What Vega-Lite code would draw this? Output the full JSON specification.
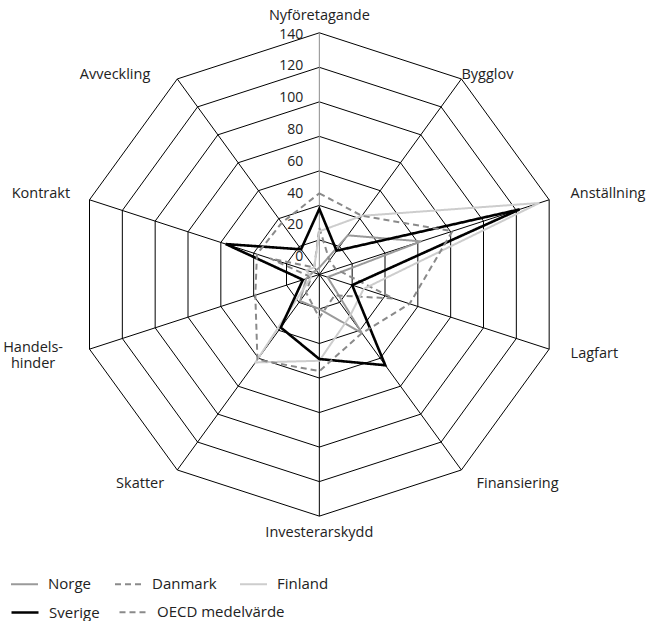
{
  "$schema": "https://vega.github.io/schema/vega-lite/v6.json",
  "width": 653,
  "height": 621,
  "padding": 0,
  "autosize": {"type": "none"},
  "config": {
    "view": {"stroke": null},
    "font": "Open Sans",
    "text": {"font": "Open Sans", "fontSize": 14.5, "color": "#222"},
    "legend": {"title": null, "orient": "none", "direction": "horizontal", "symbolType": "stroke", "symbolSize": 729, "labelFont": "Open Sans", "labelFontSize": 15, "labelColor": "#222", "labelOffset": 9, "gridAlign": "each"}
  },
  "datasets": {
    "axes": [
      {"k": 0, "kategori": "Nyföretagande", "levels": [20, 40, 60, 80, 100, 120, 140]},
      {"k": 1, "kategori": "Bygglov", "levels": [20, 40, 60, 80, 100, 120, 140]},
      {"k": 2, "kategori": "Anställning", "levels": [20, 40, 60, 80, 100, 120, 140]},
      {"k": 3, "kategori": "Lagfart", "levels": [20, 40, 60, 80, 100, 120, 140]},
      {"k": 4, "kategori": "Finansiering", "levels": [20, 40, 60, 80, 100, 120, 140]},
      {"k": 5, "kategori": "Investerarskydd", "levels": [20, 40, 60, 80, 100, 120, 140]},
      {"k": 6, "kategori": "Skatter", "levels": [20, 40, 60, 80, 100, 120, 140]},
      {"k": 7, "kategori": "Handels-\nhinder", "levels": [20, 40, 60, 80, 100, 120, 140]},
      {"k": 8, "kategori": "Kontrakt", "levels": [20, 40, 60, 80, 100, 120, 140]},
      {"k": 9, "kategori": "Avveckling", "levels": [20, 40, 60, 80, 100, 120, 140]}
    ],
    "scores": [
      {"k": 0, "Norge": 4, "Danmark": 27, "Finland": 25, "Sverige": 38, "OECD medelvärde": 47},
      {"k": 1, "Norge": 28, "Danmark": 10, "Finland": 42, "Sverige": 17, "OECD medelvärde": 42},
      {"k": 2, "Norge": 62, "Danmark": 10, "Finland": 134, "Sverige": 122, "OECD medelvärde": 81},
      {"k": 3, "Norge": 5, "Danmark": 45, "Finland": 27, "Sverige": 20, "OECD medelvärde": 55},
      {"k": 4, "Norge": 42, "Danmark": 15, "Finland": 30, "Sverige": 65, "OECD medelvärde": 42},
      {"k": 5, "Norge": 20, "Danmark": 25, "Finland": 50, "Sverige": 49, "OECD medelvärde": 56},
      {"k": 6, "Norge": 19, "Danmark": 13, "Finland": 63, "Sverige": 38, "OECD medelvärde": 61},
      {"k": 7, "Norge": 8, "Danmark": 5, "Finland": 5, "Sverige": 10, "OECD medelvärde": 39},
      {"k": 8, "Norge": 4, "Danmark": 30, "Finland": 8, "Sverige": 57, "OECD medelvärde": 38},
      {"k": 9, "Norge": 3, "Danmark": 5, "Finland": 5, "Sverige": 18, "OECD medelvärde": 37}
    ],
    "ticks": [
      {"v": 0}, {"v": 20}, {"v": 40}, {"v": 60}, {"v": 80}, {"v": 100}, {"v": 120}, {"v": 140}
    ]
  },
  "encoding": {
    "x": {"field": "px", "type": "quantitative", "scale": {"domain": [-185.0, 193.3], "nice": false, "zero": false}, "axis": null},
    "y": {"field": "py", "type": "quantitative", "scale": {"domain": [-200.75, 159.0], "nice": false, "zero": false}, "axis": null}
  },
  "resolve": {"scale": {"color": "independent", "strokeDash": "independent", "strokeWidth": "independent"}},
  "layer": [
    {
      "data": {"name": "axes"},
      "transform": [
        {"flatten": ["levels"], "as": ["level"]},
        {"calculate": "datum.k * PI / 5", "as": "a"},
        {"calculate": "datum.level * sin(datum.a)", "as": "px"},
        {"calculate": "datum.level * cos(datum.a)", "as": "py"}
      ],
      "mark": {"type": "line", "interpolate": "linear-closed", "stroke": "#000", "strokeWidth": 1},
      "encoding": {
        "detail": {"field": "level", "type": "nominal"},
        "order": {"field": "k", "type": "quantitative"}
      }
    },
    {
      "data": {"name": "axes"},
      "transform": [
        {"calculate": "datum.k * PI / 5", "as": "a"},
        {"calculate": "140 * sin(datum.a)", "as": "px"},
        {"calculate": "140 * cos(datum.a)", "as": "py"}
      ],
      "mark": {"type": "rule", "strokeWidth": 1},
      "encoding": {
        "x2": {"datum": 0},
        "y2": {"datum": 0},
        "color": {"condition": {"test": "datum.k === 0", "value": "#8c8c8c"}, "value": "#000"}
      }
    },
    {
      "data": {"name": "scores"},
      "transform": [
        {"fold": ["Norge", "Danmark", "Finland"], "as": ["land", "value"]},
        {"calculate": "datum.k * PI / 5", "as": "a"},
        {"calculate": "datum.value * sin(datum.a)", "as": "px"},
        {"calculate": "datum.value * cos(datum.a)", "as": "py"}
      ],
      "mark": {"type": "line", "interpolate": "linear-closed", "strokeJoin": "miter"},
      "encoding": {
        "order": {"field": "k", "type": "quantitative"},
        "color": {
          "field": "land", "type": "nominal",
          "scale": {"domain": ["Norge", "Danmark", "Finland"], "range": ["#9a9a9a", "#8a8a8a", "#cdcdcd"]},
          "legend": {"legendX": 10, "legendY": 569.5, "columns": 3, "columnPadding": 19}
        },
        "strokeDash": {
          "field": "land", "type": "nominal",
          "scale": {"domain": ["Norge", "Danmark", "Finland"], "range": [[1, 0], [6, 4], [1, 0]]},
          "legend": {"legendX": 10, "legendY": 569.5, "columns": 3, "columnPadding": 19}
        },
        "strokeWidth": {
          "field": "land", "type": "nominal",
          "scale": {"domain": ["Norge", "Danmark", "Finland"], "range": [2, 2, 2]},
          "legend": {"legendX": 10, "legendY": 569.5, "columns": 3, "columnPadding": 19}
        }
      }
    },
    {
      "data": {"name": "scores"},
      "transform": [
        {"fold": ["Sverige", "OECD medelvärde"], "as": ["land", "value"]},
        {"calculate": "datum.k * PI / 5", "as": "a"},
        {"calculate": "datum.value * sin(datum.a)", "as": "px"},
        {"calculate": "datum.value * cos(datum.a)", "as": "py"}
      ],
      "mark": {"type": "line", "interpolate": "linear-closed", "strokeJoin": "miter"},
      "encoding": {
        "order": {"field": "k", "type": "quantitative"},
        "color": {
          "field": "land", "type": "nominal",
          "scale": {"domain": ["Sverige", "OECD medelvärde"], "range": ["#000000", "#8a8a8a"]},
          "legend": {"legendX": 10, "legendY": 597.5, "columns": 2, "columnPadding": 15}
        },
        "strokeDash": {
          "field": "land", "type": "nominal",
          "scale": {"domain": ["Sverige", "OECD medelvärde"], "range": [[1, 0], [6, 4]]},
          "legend": {"legendX": 10, "legendY": 597.5, "columns": 2, "columnPadding": 15}
        },
        "strokeWidth": {
          "field": "land", "type": "nominal",
          "scale": {"domain": ["Sverige", "OECD medelvärde"], "range": [2.6, 2]},
          "legend": {"legendX": 10, "legendY": 597.5, "columns": 2, "columnPadding": 15}
        }
      }
    },
    {
      "data": {"name": "ticks"},
      "transform": [
        {"calculate": "0", "as": "px"},
        {"calculate": "10.1 + 0.92 * datum.v", "as": "py"}
      ],
      "mark": {"type": "text", "align": "right", "baseline": "middle", "dx": -16, "fontSize": 14},
      "encoding": {"text": {"field": "v", "type": "quantitative"}}
    },
    {
      "data": {"name": "axes"},
      "transform": [
        {"filter": "datum.k === 0 || datum.k === 5"},
        {"calculate": "datum.k * PI / 5", "as": "a"},
        {"calculate": "150 * sin(datum.a)", "as": "px"},
        {"calculate": "150 * cos(datum.a)", "as": "py"}
      ],
      "mark": {"type": "text", "align": "center", "baseline": "middle"},
      "encoding": {"text": {"field": "kategori", "type": "nominal"}}
    },
    {
      "data": {"name": "axes"},
      "transform": [
        {"filter": "datum.k >= 2 && datum.k <= 4"},
        {"calculate": "datum.k * PI / 5", "as": "a"},
        {"calculate": "150 * sin(datum.a)", "as": "px"},
        {"calculate": "150 * cos(datum.a)", "as": "py"}
      ],
      "mark": {"type": "text", "align": "left", "baseline": "middle", "dx": 5},
      "encoding": {"text": {"field": "kategori", "type": "nominal"}}
    },
    {
      "data": {"name": "axes"},
      "transform": [
        {"filter": "datum.k === 6 || datum.k === 8"},
        {"calculate": "datum.k * PI / 5", "as": "a"},
        {"calculate": "150 * sin(datum.a)", "as": "px"},
        {"calculate": "150 * cos(datum.a)", "as": "py"}
      ],
      "mark": {"type": "text", "align": "right", "baseline": "middle", "dx": -3},
      "encoding": {"text": {"field": "kategori", "type": "nominal"}}
    },
    {
      "data": {"name": "axes"},
      "transform": [
        {"filter": "datum.k === 1"},
        {"calculate": "datum.k * PI / 5", "as": "a"},
        {"calculate": "140 * sin(datum.a)", "as": "px"},
        {"calculate": "140 * cos(datum.a)", "as": "py"}
      ],
      "mark": {"type": "text", "align": "left", "baseline": "middle", "dy": -4},
      "encoding": {"text": {"field": "kategori", "type": "nominal"}}
    },
    {
      "data": {"name": "axes"},
      "transform": [
        {"filter": "datum.k === 9"},
        {"calculate": "datum.k * PI / 5", "as": "a"},
        {"calculate": "140 * sin(datum.a)", "as": "px"},
        {"calculate": "140 * cos(datum.a)", "as": "py"}
      ],
      "mark": {"type": "text", "align": "right", "baseline": "middle", "dy": -4, "dx": -27},
      "encoding": {"text": {"field": "kategori", "type": "nominal"}}
    },
    {
      "data": {"name": "axes"},
      "transform": [
        {"filter": "datum.k === 7"},
        {"calculate": "datum.k * PI / 5", "as": "a"},
        {"calculate": "150 * sin(datum.a)", "as": "px"},
        {"calculate": "150 * cos(datum.a)", "as": "py"}
      ],
      "mark": {"type": "text", "align": "center", "baseline": "middle", "dx": -40, "dy": -6, "lineBreak": "\n", "lineHeight": 16},
      "encoding": {"text": {"field": "kategori", "type": "nominal"}}
    }
  ]
}
